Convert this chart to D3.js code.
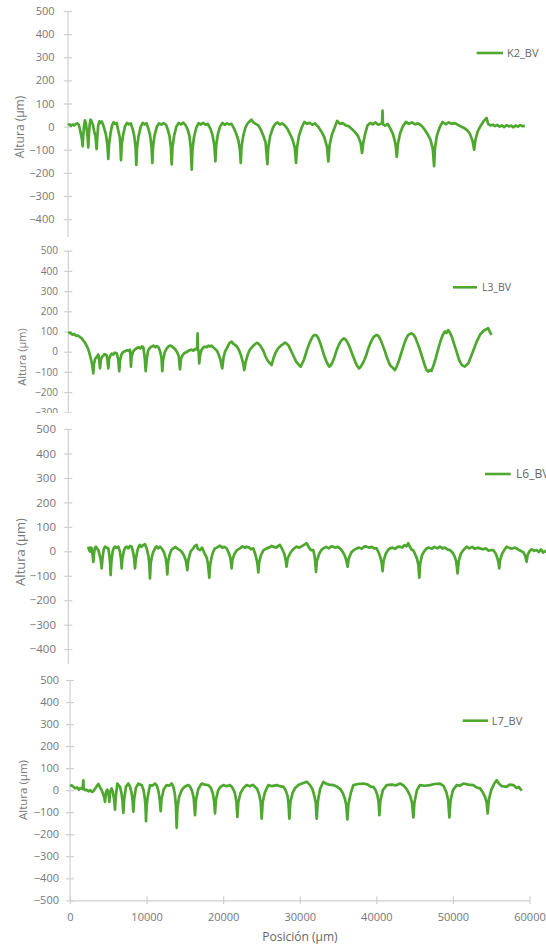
<!DOCTYPE html>
<html><head><meta charset="utf-8">
<script src="https://cdn.jsdelivr.net/npm/d3@7"></script>
<style>body{margin:0;background:#fff}svg{display:block}text{font-family:"Open Sans","Noto Sans",sans-serif}</style>
</head><body><svg id="c" width="546" height="947"></svg>
<script>
const xTicks=[0,10000,20000,30000,40000,50000,60000];
const yTicks=[500,400,300,200,100,0,-100,-200,-300,-400,-500];
const seriesNames=["K2_BV","L3_BV","L6_BV","L7_BV"];
const yTitle="Altura (µm)";
const xTitle="Posición (µm)";

const k2=[[0,6],[200,10],[400,4],[600,9],[800,5],[1000,11],[1200,14],[1400,8],[1550,-10],[1700,-35],[1820,-55],[1915,-85],[1990,-40],[2100,5],[2200,27],[2320,18],[2450,-15],[2560,-45],[2650,-90],[2720,-40],[2830,10],[2950,30],[3080,22],[3250,8],[3420,-20],[3600,-45],[3740,-97],[3820,-45],[3950,5],[4100,23],[4250,16],[4400,22],[4560,10],[4750,-10],[4950,-35],[5130,-75],[5260,-140],[5360,-75],[5550,-30],[5750,5],[5950,19],[6150,12],[6350,16],[6550,-15],[6750,-45],[6840,-80],[6920,-145],[7010,-80],[7200,-35],[7450,2],[7700,16],[7950,10],[8200,14],[8450,-12],[8650,-40],[8820,-90],[8920,-166],[9020,-90],[9220,-40],[9500,0],[9750,16],[10000,9],[10250,15],[10500,-10],[10700,-35],[10900,-85],[11010,-157],[11110,-85],[11300,-38],[11600,0],[11900,14],[12200,9],[12500,15],[12800,8],[13050,-15],[13250,-40],[13430,-90],[13540,-164],[13640,-90],[13850,-40],[14150,0],[14450,16],[14750,10],[15050,17],[15350,6],[15650,-15],[15850,-40],[16040,-95],[16150,-186],[16250,-100],[16450,-45],[16750,-5],[17050,15],[17350,9],[17650,16],[17950,8],[18250,12],[18600,-10],[18850,-35],[19100,-80],[19240,-150],[19350,-80],[19550,-35],[19850,0],[20150,16],[20450,8],[20750,14],[21050,9],[21350,12],[21700,-10],[21950,-30],[22250,-60],[22440,-100],[22550,-157],[22650,-90],[22880,-40],[23150,-5],[23450,14],[23700,22],[23950,30],[24200,18],[24500,12],[24850,5],[25150,-12],[25450,-35],[25800,-70],[26030,-162],[26150,-90],[26400,-40],[26750,-5],[27050,12],[27350,18],[27650,9],[27950,14],[28300,5],[28650,-10],[28950,-30],[29300,-55],[29600,-90],[29770,-157],[29900,-90],[30150,-40],[30500,-5],[30850,20],[31200,12],[31550,16],[31900,8],[32250,14],[32650,0],[33050,-20],[33450,-45],[33800,-85],[33990,-151],[34150,-80],[34450,-35],[34800,-5],[35150,25],[35500,12],[35850,15],[36250,5],[36650,2],[37050,-10],[37500,-25],[37850,-40],[38200,-70],[38390,-114],[38550,-70],[38800,-30],[39100,5],[39450,16],[39800,10],[40150,18],[40500,8],[40850,12],[41000,15],[41060,69],[41120,10],[41400,4],[41750,12],[42100,-10],[42450,-35],[42750,-75],[42920,-131],[43070,-75],[43350,-30],[43700,0],[44100,20],[44500,12],[44900,18],[45300,10],[45700,14],[46100,5],[46500,-10],[46900,-30],[47300,-55],[47620,-95],[47790,-171],[47900,-95],[48150,-40],[48500,-5],[48900,20],[49300,10],[49700,18],[50100,12],[50500,15],[50900,8],[51300,0],[51700,-6],[52100,-15],[52450,-30],[52800,-60],[53020,-100],[53200,-55],[53500,-20],[53900,5],[54300,25],[54650,37],[54850,12],[55150,5],[55450,8],[55750,2],[56050,7],[56350,0],[56650,5],[56950,-2],[57250,6],[57550,1],[57850,4],[58150,-3],[58450,5],[58750,0],[59050,6],[59350,2],[59650,3]];

const l3=[[40,91],[300,95],[550,84],[800,88],[1050,78],[1300,80],[1570,72],[1800,66],[2000,55],[2220,45],[2450,28],[2650,12],[2850,-15],[3050,-45],[3200,-75],[3300,-107],[3400,-60],[3550,-35],[3700,-28],[3850,-20],[3960,-14],[4080,-45],[4180,-83],[4280,-40],[4450,-25],[4610,-20],[4800,-12],[5050,-17],[5160,-45],[5260,-83],[5370,-35],[5550,-18],[5700,-10],[5900,-14],[6100,-5],[6350,-8],[6550,-35],[6690,-96],[6800,-40],[7000,-12],[7200,-2],[7440,2],[7700,8],[7900,4],[8090,10],[8150,-20],[8220,-74],[8300,-25],[8500,0],[8750,12],[8960,17],[9200,22],[9450,16],[9650,26],[9830,22],[9950,-10],[10050,-45],[10140,-96],[10250,-45],[10450,5],[10700,20],[10920,25],[11150,30],[11400,22],[11600,28],[11780,24],[12000,5],[12200,-30],[12310,-96],[12420,-40],[12650,0],[12880,15],[13100,25],[13300,30],[13530,28],[13750,20],[13950,14],[14200,0],[14450,-20],[14620,-88],[14750,-35],[15000,-15],[15250,-5],[15490,-2],[15750,5],[15950,8],[16150,10],[16350,5],[16550,12],[16700,14],[16850,10],[16920,91],[16960,15],[17050,2],[17130,-58],[17250,-15],[17450,10],[17650,20],[17880,25],[18100,22],[18350,30],[18550,26],[18750,30],[19000,20],[19250,12],[19450,5],[19620,-10],[19900,-40],[20050,-70],[20140,-83],[20300,-30],[20500,0],[20710,15],[20900,30],[21100,44],[21360,50],[21550,40],[21750,35],[22010,28],[22300,10],[22600,-20],[22850,-55],[23010,-91],[23200,-50],[23500,-10],[23750,10],[23970,20],[24200,30],[24450,38],[24650,44],[24840,41],[25100,30],[25350,15],[25550,0],[25750,-20],[26000,-40],[26300,-55],[26580,-66],[26800,-35],[27100,-5],[27400,15],[27650,25],[27890,33],[28100,38],[28320,45],[28550,40],[28800,30],[29050,10],[29300,-10],[29550,-30],[29800,-50],[30050,-60],[30250,-70],[30370,-74],[30550,-60],[30800,-40],[31050,-10],[31300,20],[31550,45],[31800,65],[32000,78],[32230,83],[32450,80],[32700,65],[32950,40],[33200,10],[33450,-20],[33700,-45],[33950,-65],[34100,-74],[34300,-68],[34550,-50],[34800,-25],[35050,5],[35300,30],[35550,48],[35800,60],[36020,66],[36250,60],[36500,45],[36750,25],[37000,0],[37250,-25],[37500,-50],[37750,-70],[38010,-83],[38200,-75],[38450,-60],[38700,-40],[38950,-15],[39200,15],[39450,40],[39700,60],[39950,75],[40150,80],[40360,83],[40600,75],[40850,55],[41100,30],[41350,5],[41600,-25],[41850,-50],[42100,-70],[42400,-80],[42670,-91],[42900,-75],[43150,-50],[43400,-20],[43650,10],[43900,40],[44150,65],[44400,82],[44650,88],[44850,91],[45100,85],[45350,70],[45600,45],[45850,20],[46100,-10],[46350,-40],[46600,-70],[46800,-90],[47020,-99],[47250,-90],[47450,-95],[47700,-70],[47950,-40],[48200,-5],[48450,30],[48700,60],[48950,85],[49200,100],[49400,92],[49630,107],[49850,95],[50100,75],[50350,45],[50600,15],[50850,-15],[51100,-45],[51400,-65],[51600,-70],[51810,-74],[52050,-65],[52300,-55],[52550,-30],[52800,-5],[53050,20],[53300,45],[53550,65],[53800,85],[54050,95],[54300,105],[54550,110],[54850,116],[55050,100],[55290,83]];

const l6=[[2410,19],[2500,5],[2609,-1],[2700,15],[2806,12],[2900,-10],[2960,-25],[3004,-43],[3080,-10],[3200,15],[3320,19],[3450,10],[3597,5],[3750,-15],[3880,-35],[3993,-70],[4100,-25],[4250,10],[4388,19],[4550,15],[4784,12],[4900,-15],[4990,-45],[5060,-97],[5140,-45],[5300,0],[5450,15],[5574,19],[5750,14],[5969,19],[6150,0],[6280,-30],[6365,-70],[6450,-30],[6650,5],[6800,15],[6958,19],[7150,12],[7350,22],[7551,19],[7700,0],[7850,-30],[7946,-70],[8050,-30],[8250,5],[8400,20],[8539,26],[8700,18],[8900,25],[9132,29],[9350,10],[9550,-20],[9650,-55],[9725,-111],[9810,-50],[10000,-15],[10150,0],[10318,12],[10500,20],[10700,12],[10911,19],[11150,10],[11400,-5],[11600,-30],[11700,-55],[11781,-94],[11870,-45],[12050,-15],[12250,5],[12492,12],[12750,18],[13000,10],[13283,5],[13550,-5],[13800,-20],[14000,-40],[14152,-77],[14280,-35],[14550,0],[14864,12],[15000,20],[15260,26],[15400,10],[15655,5],[15900,15],[16150,-5],[16450,-25],[16620,-55],[16762,-108],[16880,-50],[17100,-15],[17250,0],[17434,12],[17700,16],[18027,23],[18300,15],[18550,18],[18818,12],[19050,-5],[19250,-25],[19330,-45],[19411,-70],[19500,-35],[19750,-10],[20050,5],[20399,12],[20700,20],[21000,14],[21190,19],[21500,15],[21700,8],[21980,12],[22200,-10],[22380,-35],[22490,-55],[22573,-86],[22670,-45],[22900,-15],[23200,5],[23562,12],[23900,16],[24150,22],[24352,19],[24700,15],[24950,22],[25143,26],[25400,10],[25650,-10],[25820,-35],[25934,-63],[26050,-30],[26400,-5],[26750,10],[27120,19],[27450,15],[27800,22],[28100,28],[28306,33],[28550,18],[28800,5],[29097,5],[29250,-20],[29340,-45],[29413,-84],[29520,-40],[29800,-10],[30050,5],[30283,12],[30600,18],[30950,12],[31200,20],[31469,19],[31750,15],[32000,18],[32259,12],[32550,0],[32800,-15],[33000,-35],[33169,-63],[33300,-30],[33600,-5],[33900,5],[34236,12],[34550,15],[34850,10],[35150,20],[35422,19],[35750,15],[36050,18],[36300,12],[36608,12],[36850,-5],[37050,-25],[37200,-45],[37320,-81],[37430,-40],[37700,-10],[37950,5],[38189,12],[38500,15],[38800,10],[39100,18],[39375,19],[39650,15],[39900,25],[40150,20],[40364,33],[40600,15],[40800,5],[40957,5],[41150,-10],[41400,-30],[41560,-55],[41668,-108],[41780,-50],[42000,-15],[42250,0],[42538,12],[42850,15],[43150,10],[43450,18],[43800,12],[44119,19],[44400,12],[44700,15],[45000,8],[45305,5],[45600,-5],[45850,-20],[46050,-40],[46214,-90],[46350,-40],[46600,-10],[46900,5],[47282,19],[47600,12],[47950,18],[48250,10],[48600,15],[48863,12],[49200,8],[49550,12],[49900,2],[50200,5],[50444,5],[50750,-10],[50950,-30],[51060,-45],[51156,-70],[51260,-35],[51500,-10],[51750,5],[52026,19],[52350,14],[52650,10],[52950,15],[53212,12],[53500,5],[53800,0],[54050,-5],[54250,-20],[54398,-43],[54520,-15],[54750,0],[55000,8],[55300,2],[55584,5],[55850,-3],[56100,8],[56350,-5],[56572,-1],[56850,5],[57100,-8],[57350,3],[57600,-2]];

const l7=[[0,18],[200,22],[435,15],[700,8],[950,12],[1150,2],[1306,8],[1500,10],[1650,5],[1741,45],[1800,5],[2000,0],[2176,2],[2400,-5],[2650,0],[2850,-8],[3047,-5],[3250,5],[3450,15],[3700,28],[3900,15],[4136,0],[4300,-15],[4450,-30],[4571,-53],[4700,-10],[4875,2],[5000,-15],[5080,-30],[5137,-53],[5250,-5],[5442,8],[5600,-10],[5750,-40],[5877,-88],[5980,-30],[6182,30],[6350,22],[6530,15],[6700,-10],[6850,-45],[6965,-103],[7080,-40],[7300,15],[7618,30],[7850,15],[8050,-15],[8170,-45],[8271,-98],[8380,-40],[8600,10],[8925,30],[9150,25],[9360,23],[9600,0],[9780,-40],[9860,-75],[9926,-141],[10000,-75],[10150,-30],[10448,23],[10750,20],[11101,30],[11350,20],[11550,-5],[11720,-45],[11841,-95],[11950,-40],[12250,5],[12625,23],[12950,20],[13278,30],[13500,15],[13700,-20],[13830,-70],[13931,-171],[14030,-80],[14250,-30],[14584,0],[14950,15],[15200,20],[15455,23],[15700,15],[15950,-5],[16150,-35],[16324,-114],[16450,-45],[16750,5],[17195,30],[17600,25],[18065,23],[18400,10],[18650,-15],[18820,-50],[18937,-106],[19050,-45],[19350,0],[19650,15],[20025,23],[20450,18],[20896,23],[21200,12],[21500,-10],[21720,-50],[21853,-121],[21980,-55],[22250,-15],[22650,10],[23072,23],[23500,18],[23850,24],[24160,15],[24450,5],[24700,-20],[24900,-55],[25031,-129],[25160,-55],[25450,-10],[25902,23],[26400,18],[26990,23],[27400,18],[27861,15],[28150,0],[28400,-25],[28520,-55],[28644,-129],[28770,-55],[29050,-15],[29400,10],[29820,23],[30300,30],[30908,38],[31300,25],[31650,5],[31900,-25],[32080,-55],[32214,-129],[32350,-55],[32650,5],[33084,38],[33400,30],[33800,25],[34390,23],[34900,15],[35300,5],[35650,-15],[35900,-40],[36080,-70],[36218,-133],[36350,-65],[36650,-15],[37002,23],[37600,28],[38308,30],[38900,25],[39300,15],[39614,15],[39900,0],[40150,-25],[40300,-55],[40397,-114],[40520,-50],[40850,0],[41355,23],[42000,25],[42600,22],[43096,30],[43600,20],[44050,0],[44400,-25],[44650,-55],[44837,-124],[44980,-55],[45300,0],[45708,23],[46300,20],[47014,23],[47600,28],[48320,30],[48800,18],[49150,-10],[49380,-45],[49539,-124],[49680,-50],[50000,0],[50497,23],[50900,20],[51368,30],[52000,25],[52673,23],[53100,12],[53544,8],[53900,-10],[54200,-30],[54400,-55],[54545,-106],[54680,-45],[55000,0],[55400,30],[55720,45],[56000,30],[56400,18],[57026,15],[57400,25],[57897,23],[58300,10],[58600,15],[58985,-3]];

const seriesData=[k2,l3,l6,l7];

// layout (pixel placement of each stacked panel)
const layout=[
 {clip:[0,237],yTop:11,yBot:242.2,x0:68,x1:527.6,axX:68,axEnd:237,fs:11,lblR:54.5,tx:20,ty:127,tfs:12,lg:[476.7,503,53,507,11]},
 {clip:[237,413],yTop:250.7,yBot:452.7,x0:68,x1:527.6,axX:68.3,axEnd:412,fs:10,lblR:58,tx:22.5,ty:357,tfs:11,lg:[453,477,287.3,482,10.5]},
 {clip:[413,664],yTop:429,yBot:673.6,x0:68,x1:573.8,axX:68.3,axEnd:664,fs:11.5,lblR:56,tx:20,ty:552,tfs:13,lg:[485,510.7,474,516,12]},
 {clip:[664,947],yTop:680,yBot:900.3,x0:70,x1:529.5,axX:70,axEnd:900.3,fs:11,lblR:59,tx:23.3,ty:790,tfs:11.5,lg:[462.7,488,720.7,491.7,11],xAxis:true}
];

const GREEN="#4EA72E", AX="#cfcfcf", LBL="#777777";
const svg=d3.select("#c");
const defs=svg.append("defs");

layout.forEach((L,i)=>{
  defs.append("clipPath").attr("id","cp"+i).append("rect")
    .attr("x",0).attr("y",L.clip[0]).attr("width",546).attr("height",L.clip[1]-L.clip[0]);
  const g=svg.append("g").attr("clip-path","url(#cp"+i+")");
  const x=d3.scaleLinear().domain([0,60000]).range([L.x0,L.x1]);
  const y=d3.scaleLinear().domain([-500,500]).range([L.yBot,L.yTop]);
  const visTicks=yTicks.filter(t=>y(t)<=L.clip[1]+3);

  // y axis
  const ya=g.append("g").attr("transform","translate("+L.axX+",0)")
    .call(d3.axisLeft(y).tickValues(visTicks).tickSize(4).tickSizeOuter(0));
  ya.select(".domain").remove();
  ya.append("line").attr("x1",0).attr("x2",0).attr("y1",y(500)).attr("y2",L.axEnd)
    .attr("stroke",AX).attr("stroke-width",1.2);
  ya.selectAll(".tick line").attr("x1",-4).attr("x2",4).attr("stroke",AX).attr("stroke-width",1.2);
  ya.selectAll(".tick text").attr("x",L.lblR-L.axX).attr("fill",LBL)
    .style("font-size",L.fs+"px").style("font-family",'"Open Sans","Noto Sans",sans-serif');

  if(L.xAxis){
    const xa=g.append("g").attr("transform","translate(0,"+y(-500)+")")
      .call(d3.axisBottom(x).tickValues(xTicks).tickSize(4).tickSizeOuter(0).tickFormat(d3.format("d")));
    xa.select(".domain").attr("stroke",AX).attr("stroke-width",1.2);
    xa.selectAll(".tick line").attr("y1",-4).attr("y2",4).attr("stroke",AX).attr("stroke-width",1.2);
    xa.selectAll(".tick text").attr("y",20.7).attr("dy",0).attr("fill",LBL)
      .style("font-size",L.fs+"px").style("font-family",'"Open Sans","Noto Sans",sans-serif');
    svg.append("text").attr("x",300).attr("y",941).attr("text-anchor","middle")
      .attr("fill","#666").style("font-size","12px").text(xTitle);
  }

  // y title
  g.append("text").attr("transform","translate("+L.tx+","+L.ty+") rotate(-90)")
    .attr("text-anchor","middle").attr("dy","0.35em").attr("fill",LBL)
    .style("font-size",L.tfs+"px").text(yTitle);

  // series line
  const line=d3.line().x(d=>x(d[0])).y(d=>y(d[1]));
  g.append("path").datum(seriesData[i]).attr("d",line).attr("fill","none")
    .attr("stroke",GREEN).attr("stroke-width",2.7).attr("stroke-linejoin","round");

  // legend
  const lg=L.lg;
  g.append("line").attr("x1",lg[0]).attr("x2",lg[1]).attr("y1",lg[2]).attr("y2",lg[2])
    .attr("stroke",GREEN).attr("stroke-width",2.6);
  g.append("text").attr("x",lg[3]).attr("y",lg[2]).attr("dy","0.35em").attr("fill","#666")
    .style("font-size",lg[4]+"px").text(seriesNames[i]);
});
</script></body></html>
